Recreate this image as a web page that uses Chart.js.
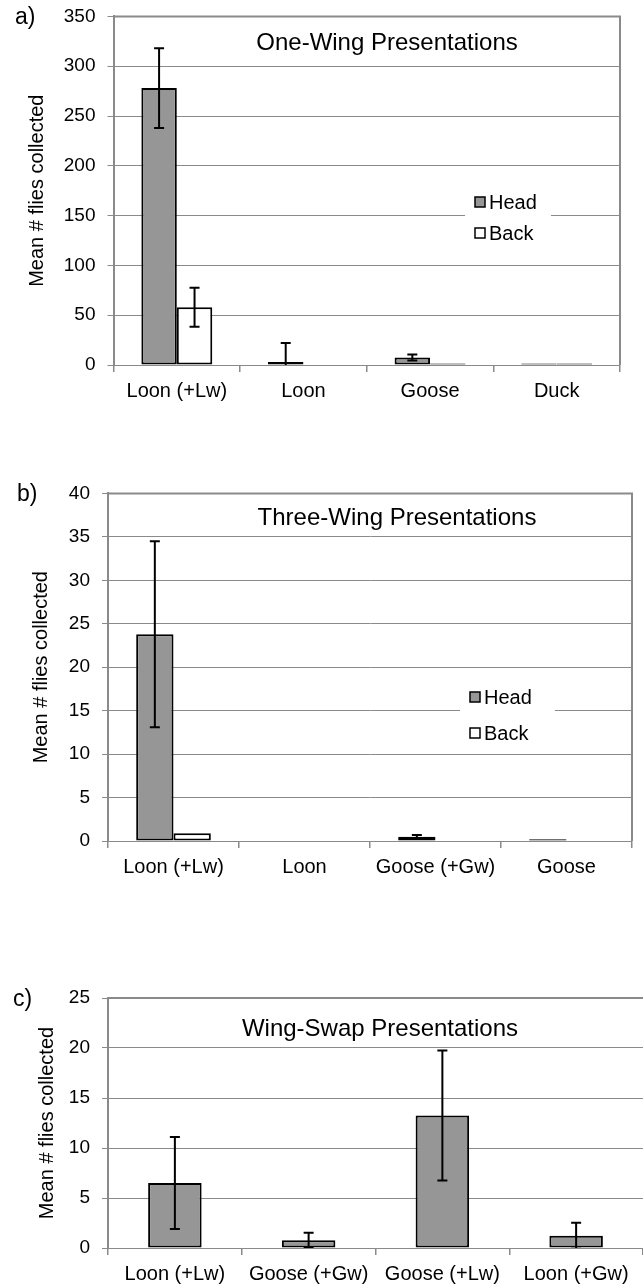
<!DOCTYPE html>
<html lang="en">
<head>
<meta charset="UTF-8">
<title>Mean flies collected by presentation</title>
<script src="https://cdn.jsdelivr.net/npm/chart.js"></script>
<style>
  body { margin: 0; background: #fff; width: 643px; height: 1285px; position: relative; overflow: hidden; }
  canvas { position: absolute; left: 0; }
</style>
</head>
<body>
<canvas id="chartA" width="643" height="422" style="top:-7px"></canvas>
<canvas id="chartB" width="643" height="421" style="top:470px"></canvas>
<canvas id="chartC" width="643" height="315" style="top:970px"></canvas>

<script>
// ---- data ----
const seriesNames = ['Head', 'Back'];

const catsA = ['Loon (+Lw)', 'Loon', 'Goose', 'Duck'];
const headA = [278, 3, 7.6, 1.5];
const headErrA = [40, 19, 3, 0];
const backA = [58, 0.5, 1.5, 1.5];
const backErrA = [19.5, 0, 0, 0];
const ticksA = [0, 50, 100, 150, 200, 250, 300, 350];

const catsB = ['Loon (+Lw)', 'Loon', 'Goose (+Gw)', 'Goose'];
const headB = [23.8, 0.05, 0.5, 0.2];
const headErrB = [10.7, 0, 0.2, 0];
const backB = [0.9, 0, 0, 0];
const ticksB = [0, 5, 10, 15, 20, 25, 30, 35, 40];

const catsC = ['Loon (+Lw)', 'Goose (+Gw)', 'Goose (+Lw)', 'Loon (+Gw)'];
const headC = [6.5, 0.77, 13.26, 1.23];
const headErrC = [4.6, 0.75, 6.5, 1.3];
const ticksC = [0, 5, 10, 15, 20, 25];

Chart.defaults.font.family = '"Liberation Sans", Arial, sans-serif';
Chart.defaults.color = '#000';
const GRID = '#8a8a8a';
const GRAY = '#969696';
const FONT = '"Liberation Sans", Arial, sans-serif';

// very flat bars show up as solid black outline in the original
function barFill(color) {
    return function (c) {
        const y = c.chart.scales.y;
        if (y && c.raw !== undefined && c.raw > 0) {
            const h = y.getPixelForValue(0) - y.getPixelForValue(c.raw);
            if (h < 4) return '#000';
        }
        return color;
    };
}

// error bars drawn from the y scale
const errorBars = {
    id: 'errorBars',
    afterDatasetsDraw(chart) {
        const ctx = chart.ctx, y = chart.scales.y, area = chart.chartArea;
        ctx.save();
        ctx.beginPath();
        ctx.rect(area.left, area.top - 3, area.right - area.left, area.bottom - area.top + 3);
        ctx.clip();
        ctx.strokeStyle = '#000';
        ctx.lineWidth = 2;
        chart.data.datasets.forEach((ds, di) => {
            if (!ds.errors) return;
            chart.getDatasetMeta(di).data.forEach((bar, i) => {
                const e = ds.errors[i];
                if (!e) return;
                const v = ds.data[i];
                const hi = y.getPixelForValue(v + e), lo = y.getPixelForValue(v - e);
                ctx.beginPath();
                ctx.moveTo(bar.x, hi); ctx.lineTo(bar.x, lo);
                ctx.moveTo(bar.x - 5, hi); ctx.lineTo(bar.x + 5, hi);
                ctx.moveTo(bar.x - 5, lo); ctx.lineTo(bar.x + 5, lo);
                ctx.stroke();
            });
        });
        ctx.restore();
    }
};

// frame, panel letter, title and legend
const panelDeco = {
    id: 'panelDeco',
    beforeDatasetsDraw(chart, args, opts) {
        const a = chart.chartArea, ctx = chart.ctx;
        ctx.save();
        ctx.strokeStyle = GRID;
        ctx.lineWidth = 2;
        ctx.beginPath();
        ctx.moveTo(a.left, a.top); ctx.lineTo(a.right, a.top);
        if (opts.frameRight) ctx.lineTo(a.right, a.bottom);
        ctx.stroke();
        ctx.restore();
    },
    afterDraw(chart, args, opts) {
        const ctx = chart.ctx;
        ctx.save();
        ctx.fillStyle = '#000';
        ctx.textBaseline = 'middle';
        ctx.font = '23px ' + FONT;
        ctx.textAlign = 'left';
        ctx.fillText(opts.letter, opts.letterX, opts.letterY);
        ctx.font = '24px ' + FONT;
        ctx.textAlign = 'center';
        ctx.fillText(opts.title, opts.titleX, opts.titleY);
        if (opts.legend) {
            const L = opts.legend;
            ctx.fillStyle = '#fff';
            ctx.fillRect(L.x, L.y, L.w, L.h);
            ctx.font = '20px ' + FONT;
            ctx.textAlign = 'left';
            chart.data.datasets.forEach((ds, i) => {
                const cy = L.rows[i];
                ctx.fillStyle = ds.legendColor;
                ctx.fillRect(L.x + 10, cy - 5, 10, 10);
                ctx.strokeStyle = '#000';
                ctx.lineWidth = 1.5;
                ctx.strokeRect(L.x + 10, cy - 5, 10, 10);
                ctx.fillStyle = '#000';
                ctx.fillText(ds.label, L.x + 24, cy + 1);
            });
        }
        ctx.restore();
    }
};

function makeChart(id, cats, datasets, ticks, cfg) {
    return new Chart(document.getElementById(id), {
        type: 'bar',
        data: { labels: cats, datasets: datasets },
        options: {
            responsive: false,
            animation: false,
            layout: { padding: { top: cfg.top, left: 0, right: cfg.right, bottom: 0 } },
            datasets: { bar: { categoryPercentage: cfg.catPct, barPercentage: 1.0, borderWidth: 2, borderColor: '#000', borderSkipped: false } },
            scales: {
                x: {
                    grid: { drawOnChartArea: false, offset: true, tickLength: 7, color: GRID, lineWidth: 1.5 },
                    border: { color: GRID, width: 1 },
                    ticks: { font: { size: 20 }, padding: 7, maxRotation: 0, autoSkip: false },
                    afterFit(s) { s.height = cfg.xh; }
                },
                y: {
                    min: ticks[0],
                    max: ticks[ticks.length - 1],
                    ticks: { stepSize: ticks[1] - ticks[0], font: { size: 19 }, padding: 12 },
                    grid: { color: GRID, lineWidth: 1, tickLength: 6, tickColor: GRID },
                    border: { color: GRID, width: 2 },
                    title: { display: true, text: 'Mean # flies collected', font: { size: 20 }, padding: { top: cfg.titlePad, bottom: 0 } },
                    afterFit(s) { s.width = cfg.yw; }
                }
            },
            plugins: {
                legend: { display: false },
                tooltip: { enabled: false },
                panelDeco: cfg.deco
            }
        },
        plugins: [panelDeco, errorBars]
    });
}

makeChart('chartA', catsA, [
    { label: seriesNames[0], data: headA, errors: headErrA, backgroundColor: barFill(GRAY), legendColor: GRAY },
    { label: seriesNames[1], data: backA, errors: backErrA, backgroundColor: barFill('#fff'), legendColor: '#fff' }
], ticksA, {
    top: 15, right: 23, xh: 50, yw: 113.5, catPct: 0.56, titlePad: 25,
    deco: { letter: 'a)', letterX: 15, letterY: 25, title: 'One-Wing Presentations', titleX: 387, titleY: 50, frameRight: true,
            legend: { x: 465, y: 197, w: 86, h: 55, rows: [209, 240] } }
});

makeChart('chartB', catsB, [
    { label: seriesNames[0], data: headB, errors: headErrB, backgroundColor: barFill(GRAY), legendColor: GRAY },
    { label: seriesNames[1], data: backB, backgroundColor: barFill('#fff'), legendColor: '#fff' }
], ticksB, {
    top: 22, right: 11, xh: 50, yw: 108, catPct: 0.57, titlePad: 29,
    deco: { letter: 'b)', letterX: 17, letterY: 25, title: 'Three-Wing Presentations', titleX: 397, titleY: 48, frameRight: true,
            legend: { x: 460, y: 215, w: 95, h: 55, rows: [227, 263] } }
});

makeChart('chartC', catsC, [
    { label: seriesNames[0], data: headC, errors: headErrC, backgroundColor: barFill(GRAY), legendColor: GRAY }
], ticksC, {
    top: 28, right: -2, xh: 37, yw: 108, catPct: 0.4, titlePad: 35,
    deco: { letter: 'c)', letterX: 13, letterY: 30, title: 'Wing-Swap Presentations', titleX: 380, titleY: 59, frameRight: false }
});
</script>
</body>
</html>
